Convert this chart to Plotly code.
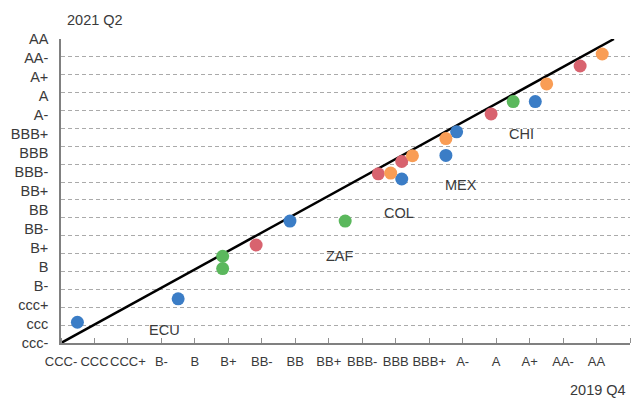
import plotly.graph_objects as go

# Rating scales
x_labels = ["CCC-", "CCC", "CCC+", "B-", "B", "B+", "BB-", "BB", "BB+", "BBB-",
            "BBB", "BBB+", "A-", "A", "A+", "AA-", "AA"]
y_labels = ["ccc-", "ccc", "ccc+", "B-", "B", "B+", "BB-", "BB", "BB+", "BBB-",
            "BBB", "BBB+", "A-", "A", "A+", "AA-", "AA"]

# Series values (x = 2019 Q4, y = 2021 Q2, in rating-scale units)
blue_x = [0.49, 3.50, 6.84, 10.18, 11.50, 11.82, 14.17]
blue_y = [1.16, 2.47, 6.82, 9.17, 10.49, 11.81, 13.50]
green_x = [4.83, 4.83, 8.49, 13.51]
green_y = [4.85, 4.16, 6.82, 13.50]
red_x = [5.83, 9.48, 10.18, 12.85, 15.51]
red_y = [5.48, 9.46, 10.15, 12.81, 15.49]
orange_x = [9.85, 10.50, 11.50, 14.51, 16.17]
orange_y = [9.50, 10.47, 11.43, 14.49, 16.16]

diag_x = [0, 16.52]
diag_y = [0, 17]

countries = ["ECU", "ZAF", "COL", "MEX", "CHI"]
country_x = [3.08, 8.34, 10.09, 11.95, 13.77]
country_y = [0.75, 4.85, 7.29, 8.85, 11.68]

n = len(x_labels)
FONT = "Liberation Sans, Arial, sans-serif"
TXT = "#3a3a3a"

fig = go.Figure()
fig.add_trace(go.Scatter(x=diag_x, y=diag_y, mode="lines",
                         line=dict(color="black", width=2.5),
                         hoverinfo="skip", showlegend=False))
for xs, ys, col in [(blue_x, blue_y, "#3b7dc6"), (green_x, green_y, "#5bb85d"),
                    (red_x, red_y, "#d8636f"), (orange_x, orange_y, "#f99d55")]:
    fig.add_trace(go.Scatter(x=xs, y=ys, mode="markers",
                             marker=dict(color=col, size=13, line=dict(width=0)),
                             showlegend=False, cliponaxis=False))

for name, cx, cy in zip(countries, country_x, country_y):
    fig.add_annotation(x=cx, y=cy, text=name, showarrow=False,
                       xanchor="center", yanchor="middle",
                       font=dict(family=FONT, size=14.5, color=TXT))

fig.add_annotation(xref="paper", yref="paper", x=0.06, y=1.062, text="2021 Q2",
                   showarrow=False, xanchor="center", yanchor="middle",
                   font=dict(family=FONT, size=14.5, color=TXT))
fig.add_annotation(xref="paper", yref="paper", x=0.944, y=-0.153, text="2019 Q4",
                   showarrow=False, xanchor="center", yanchor="middle",
                   font=dict(family=FONT, size=14.5, color=TXT))

fig.update_xaxes(range=[0, n], tickmode="array", tickvals=list(range(n)),
                 ticktext=x_labels, ticks="", showgrid=False, zeroline=False,
                 showline=True, linecolor="#808080", linewidth=1.5,
                 tickangle=0, automargin=False,
                 tickfont=dict(family=FONT, size=13, color=TXT),
                 ticklabelstandoff=6,
                 minor=dict(tickvals=list(range(n + 1)), ticks="inside",
                            ticklen=5, tickcolor="#909090", tickwidth=1,
                            showgrid=False))
fig.update_yaxes(range=[0, n], tickmode="array",
                 tickvals=[k * n / (n - 1) for k in range(n)],
                 ticktext=y_labels, ticks="", showgrid=False, zeroline=False,
                 showline=True, linecolor="#808080", linewidth=1.5,
                 automargin=False,
                 tickfont=dict(family=FONT, size=14.5, color=TXT),
                 ticklabelstandoff=8,
                 minor=dict(tickvals=list(range(n + 1)), ticks="",
                            showgrid=True, gridcolor="#aaaaaa", gridwidth=1,
                            griddash="4px,3px"))

fig.update_layout(width=632, height=399,
                  margin=dict(l=61, r=2, t=39, b=56),
                  plot_bgcolor="white", paper_bgcolor="white",
                  font=dict(family=FONT, size=14, color=TXT))

fig.write_html("out.html", config={"displayModeBar": False},
               post_script="document.body.style.margin='0';document.body.style.overflow='hidden';")
